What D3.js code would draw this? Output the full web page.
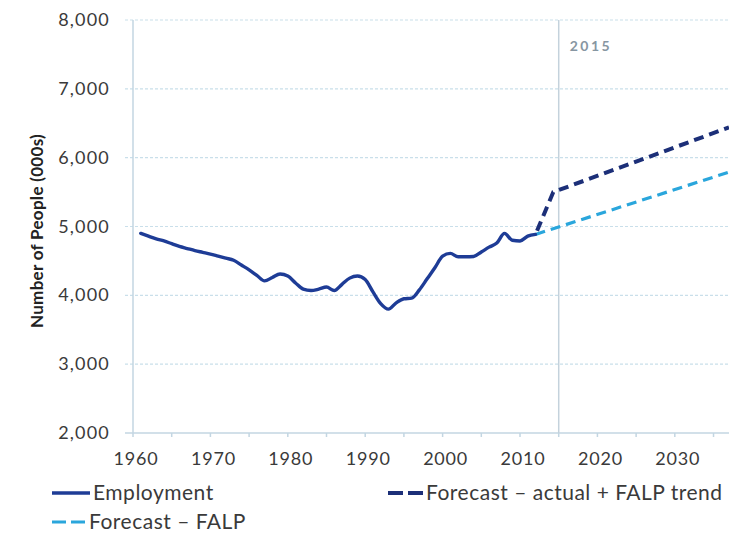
<!DOCTYPE html>
<html>
<head>
<meta charset="utf-8">
<script src="https://cdn.jsdelivr.net/npm/d3@7"></script>
<style>
  html, body { margin: 0; padding: 0; background: #fff; }
  svg { display: block; font-family: Lato, "Open Sans", sans-serif; }
</style>
</head>
<body>
<svg id="chart" width="729" height="534"></svg>
<script>
// ---- data ----
const empYears = [1961,1962,1963,1964,1965,1966,1967,1968,1969,1970,
  1971,1972,1973,1974,1975,1976,1977,1978,1979,1980,
  1981,1982,1983,1984,1985,1986,1987,1988,1989,1990,
  1991,1992,1993,1994,1995,1996,1997,1998,1999,2000,
  2001,2002,2003,2004,2005,2006,2007,2008,2009,2010,2011,2012];
const empValues = [4900,4860,4820,4790,4750,4710,4680,4650,4625,4600,
  4570,4540,4510,4440,4370,4290,4210,4260,4310,4280,
  4180,4090,4070,4090,4120,4070,4160,4250,4280,4230,
  4050,3880,3800,3890,3950,3960,4080,4240,4400,4570,
  4610,4560,4560,4565,4630,4700,4760,4900,4800,4790,4860,4885];
const falpYears = [2012, 2037];
const falpValues = [4885, 5790];
const trendYears = [2012, 2014.3, 2037];
const trendValues = [4885, 5500, 6440];
const yTicks = [2000,3000,4000,5000,6000,7000,8000];
const xLabelTicks = [1960,1970,1980,1990,2000,2010,2020,2030];
const xMinorTicks = [1960,1965,1970,1975,1980,1985,1990,1995,2000,2005,2010,2015,2020,2025,2030,2035];
const markerYear = 2015;
const markerLabel = "2015";
const yTitle = "Number of People (000s)";
const legendItems = ["Employment", "Forecast \u2013 FALP", "Forecast \u2013 actual + FALP trend"];

// ---- layout ----
const svg = d3.select("#chart");
const x = d3.scaleLinear().domain([1960, 2037]).range([133, 729]);
const y = d3.scaleLinear().domain([2000, 8000]).range([433, 20]);

const gridColor = "#c9dfea";
const axisColor = "#c3d6e2";
const textColor = "#3a3a3a";
const cEmp = "#1e3c96";
const cTrend = "#1c2f78";
const cFalp = "#2aa6dc";

// gridlines (dotted)
svg.append("g").selectAll("line").data(yTicks.filter(d => d !== 2000)).join("line")
  .attr("x1", 125).attr("x2", 729)
  .attr("y1", d => y(d)).attr("y2", d => y(d))
  .attr("stroke", gridColor).attr("stroke-width", 1.2)
  .attr("stroke-dasharray", "3,2");

// y axis line
svg.append("line").attr("x1", x(1960)).attr("x2", x(1960))
  .attr("y1", y(8000)).attr("y2", y(2000))
  .attr("stroke", axisColor).attr("stroke-width", 1.5);
// x axis line
svg.append("line").attr("x1", 125).attr("x2", 729)
  .attr("y1", y(2000)).attr("y2", y(2000))
  .attr("stroke", axisColor).attr("stroke-width", 1.5);

// x minor ticks
svg.append("g").selectAll("line").data(xMinorTicks).join("line")
  .attr("x1", d => x(d)).attr("x2", d => x(d))
  .attr("y1", y(2000)).attr("y2", y(2000) + 4)
  .attr("stroke", axisColor).attr("stroke-width", 1.5);

// 2015 marker line
svg.append("line").attr("x1", x(markerYear)).attr("x2", x(markerYear))
  .attr("y1", y(8000)).attr("y2", y(2000))
  .attr("stroke", "#c4d2dc").attr("stroke-width", 1.5);
svg.append("text").attr("x", x(markerYear) + 11).attr("y", 51)
  .attr("fill", "#8796a2").attr("font-size", 14).attr("font-weight", 700)
  .attr("letter-spacing", 2.5).text(markerLabel);

// y tick labels
svg.append("g").selectAll("text").data(yTicks).join("text")
  .attr("x", 110).attr("y", d => y(d) + 6)
  .attr("text-anchor", "end").attr("fill", textColor)
  .attr("font-size", 18).attr("letter-spacing", 1.2)
  .text(d => d3.format(",")(d));

// x tick labels
svg.append("g").selectAll("text").data(xLabelTicks).join("text")
  .attr("x", d => x(d) + 3).attr("y", 465)
  .attr("text-anchor", "middle").attr("fill", textColor)
  .attr("font-size", 18).attr("letter-spacing", 0.8)
  .text(d => d);

// y title
svg.append("text")
  .attr("transform", "translate(43," + 231 + ") rotate(-90)")
  .attr("text-anchor", "middle").attr("fill", "#222")
  .attr("font-size", 17).attr("font-weight", 700).attr("letter-spacing", 0.3)
  .text(yTitle);

// lines
const line = d3.line().x(d => x(d[0])).y(d => y(d[1]));
const smooth = d3.line().x(d => x(d[0])).y(d => y(d[1])).curve(d3.curveMonotoneX);

svg.append("path").datum(falpYears.map((v, i) => [v, falpValues[i]]))
  .attr("d", line).attr("fill", "none").attr("stroke", cFalp)
  .attr("stroke-width", 3.2).attr("stroke-dasharray", "10,6");

svg.append("path").datum(trendYears.map((v, i) => [v, trendValues[i]]))
  .attr("d", line).attr("fill", "none").attr("stroke", cTrend)
  .attr("stroke-width", 4).attr("stroke-dasharray", "10,6")
  .attr("stroke-dashoffset", -4);

svg.append("path").datum(empYears.map((v, i) => [v, empValues[i]]))
  .attr("d", smooth).attr("fill", "none").attr("stroke", cEmp)
  .attr("stroke-width", 3.4).attr("stroke-linejoin", "round").attr("stroke-linecap", "round");

// legend
const lg = svg.append("g");
const legendPos = [
  {x: 52, y: 493, color: cEmp, dash: null, w: 3.4, len: 38},
  {x: 52, y: 522, color: cFalp, dash: "14,5", w: 3.2, len: 34},
  {x: 388, y: 493, color: cTrend, dash: "15,5", w: 4, len: 35}
];
legendItems.forEach((t, i) => {
  const p = legendPos[i];
  lg.append("line").attr("x1", p.x).attr("x2", p.x + p.len)
    .attr("y1", p.y).attr("y2", p.y)
    .attr("stroke", p.color).attr("stroke-width", p.w)
    .attr("stroke-dasharray", p.dash);
  lg.append("text").attr("x", p.x + p.len + 3).attr("y", p.y + 7)
    .attr("fill", textColor).attr("font-size", 21).attr("letter-spacing", 0.5)
    .text(t);
});
</script>
</body>
</html>
